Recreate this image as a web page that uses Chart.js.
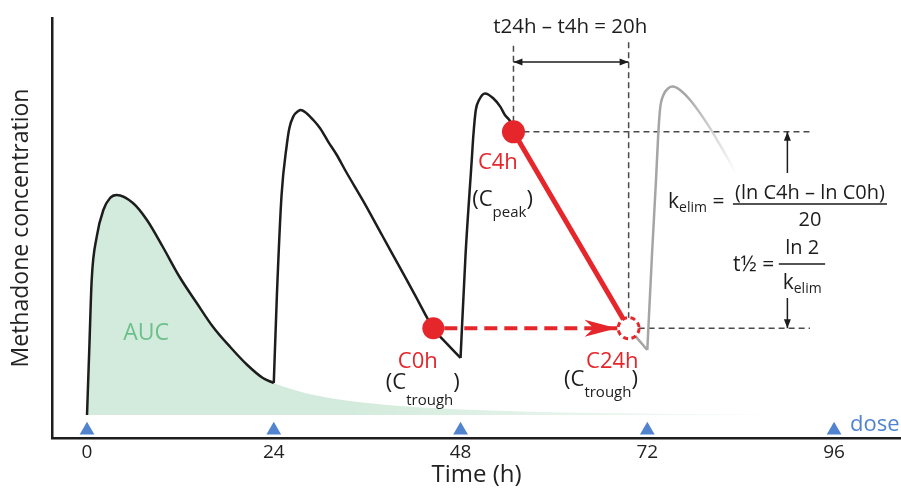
<!DOCTYPE html>
<html lang="en">
  <head>
    <meta charset="UTF-8" />
    <title>Methadone concentration</title>
    <script src="https://cdn.jsdelivr.net/npm/chart.js@4.4.1/dist/chart.umd.min.js"></script>
    <style>
      html, body { margin: 0; padding: 0; background: #fff; }
      canvas { display: block; }
    </style>
  </head>
  <body>
    <canvas id="myChart" width="901" height="491"></canvas>
    <script>
      // time in hours, concentration in arbitrary units
      const xTicks = [0, 24, 48, 72, 96];
      const doseTimes = [0, 24, 48, 72, 96];
      const doseMarkerConc = -3.8;

      const dose1Time = [0, 0.3, 0.6, 1.25, 2.1, 2.96, 3.8, 5.9, 7.7, 9.75, 11.9, 14.1, 16.2, 18.4, 20.6, 22.6, 24];
      const dose1Conc = [0, 17, 33.75, 44.6, 51.25, 54.25, 55, 53, 48.75, 42, 34.5, 28, 22, 17, 12.5, 9.25, 8];

      const dose2Time = [24, 24.4, 25.0, 25.67, 26.0, 26.5, 27.16, 27.46, 28.24, 29.08, 29.95, 31.0, 32.1, 33.16, 35.7, 37.9, 40.0, 42.2, 44.5, 46.3, 48];
      const dose2Conc = [8, 30, 55, 67.5, 71.7, 74.6, 76, 76.25, 75.4, 73.75, 71.7, 68.3, 65, 61.25, 52.8, 45, 37.6, 29.8, 21.7, 17.7, 14.25];

      const dose3Time = [48, 48.64, 49.44, 49.65, 49.96, 50.38, 51.15, 52.2, 53.1, 53.7, 54.4, 54.8];
      const dose3Conc = [14.25, 40, 63.75, 70, 76.25, 78.75, 80.4, 79.2, 77.1, 75, 73.3, 70.8];

      const leadTime = [69.6, 72];
      const leadConc = [21.7, 16.25];
      const dose4Time = [72, 72.6, 73.15, 73.4, 73.65, 74.07, 74.7, 75.27, 76.2, 77.5, 78.8, 80.06, 81.35, 82.6, 83.4];
      const dose4Conc = [16.25, 40, 60, 70, 76.7, 80, 81.7, 82.1, 81.25, 78.75, 75.4, 71.7, 67.5, 63.3, 60.5];

      // single-dose tail after 24h (area under curve)
      const tailTime = [26, 28, 32, 36, 42, 48, 56, 66, 78, 90];
      const tailConc = [6.6, 5.5, 4.0, 3.0, 2.0, 1.4, 0.9, 0.5, 0.25, 0];

      const c0h = { x: 44.5, y: 21.7 };
      const c4h = { x: 54.8, y: 70.8 };
      const c24h = { x: 69.6, y: 21.7 };
      const guideTop = 93.25;
      const guideRight = 92.9;
      const spanLevel = 88.25;
      const kArrowTime = 90;
      const kUpFrom = 60.5;
      const kDownFrom = 29.25;

      const red = "#e5262b";
      const ink = "#1d1d1d";
      const blue = "#5183cf";
      const green = "#6cc08c";
      const FONT = '"Open Sans", "DejaVu Sans", sans-serif';
      Chart.defaults.font.family = FONT;

      const pts = (ts, cs) => ts.map((t, i) => ({ x: t, y: cs[i] }));

      function aucFill(c) {
        const chart = c.chart;
        if (!chart.chartArea) return "rgb(211,235,220)";
        const x = chart.scales.x;
        const g = chart.ctx.createLinearGradient(x.getPixelForValue(34), 0, x.getPixelForValue(98), 0);
        g.addColorStop(0, "rgba(211,235,220,1)");
        g.addColorStop(1, "rgba(211,235,220,0)");
        return g;
      }
      function grayFade(c) {
        const chart = c.chart;
        if (!chart.chartArea) return "#a8a8a8";
        const x = chart.scales.x;
        const g = chart.ctx.createLinearGradient(x.getPixelForValue(77), 0, x.getPixelForValue(83.4), 0);
        g.addColorStop(0, "rgba(165,165,165,1)");
        g.addColorStop(1, "rgba(165,165,165,0)");
        return g;
      }

      function run(ctx, x, y, parts, align) {
        let w = 0;
        parts.forEach(p => { ctx.font = p[1] + "px " + FONT; w += ctx.measureText(p[0]).width; });
        let cx = align === "center" ? x - w / 2 : x;
        ctx.textAlign = "left";
        ctx.textBaseline = "middle";
        parts.forEach(p => {
          ctx.font = p[1] + "px " + FONT;
          ctx.fillStyle = p[3] || ink;
          ctx.fillText(p[0], cx, y + (p[2] || 0));
          cx += ctx.measureText(p[0]).width;
        });
      }
      function head(ctx, x1, y1, x2, y2, len, half) {
        const a = Math.atan2(y2 - y1, x2 - x1);
        ctx.beginPath();
        ctx.moveTo(x2, y2);
        ctx.lineTo(x2 - len * Math.cos(a) + half * Math.sin(a), y2 - len * Math.sin(a) - half * Math.cos(a));
        ctx.lineTo(x2 - len * Math.cos(a) - half * Math.sin(a), y2 - len * Math.sin(a) + half * Math.cos(a));
        ctx.closePath();
        ctx.fill();
      }
      function arrow(ctx, x1, y1, x2, y2, both) {
        ctx.beginPath();
        ctx.moveTo(x1, y1);
        ctx.lineTo(x2, y2);
        ctx.stroke();
        head(ctx, x1, y1, x2, y2, 9, 3.5);
        if (both) head(ctx, x2, y2, x1, y1, 9, 3.5);
      }

      const annotate = {
        id: "annotate",
        beforeDatasetDraw(chart, args) {
          const ds = chart.data.datasets[args.index];
          if (ds.pointDash) { chart.ctx.save(); chart.ctx.setLineDash(ds.pointDash); }
        },
        afterDatasetDraw(chart, args) {
          if (chart.data.datasets[args.index].pointDash) chart.ctx.restore();
        },
        afterDatasetsDraw(chart) {
          const ctx = chart.ctx;
          const X = v => chart.scales.x.getPixelForValue(v);
          const Y = v => chart.scales.y.getPixelForValue(v);
          ctx.save();

          // red arrow head touching the C24h circle
          const tx = X(c24h.x) - 12, ty = Y(c24h.y);
          ctx.fillStyle = red;
          ctx.beginPath();
          ctx.moveTo(tx, ty);
          ctx.lineTo(tx - 32, ty - 8.5);
          ctx.lineTo(tx - 23, ty);
          ctx.lineTo(tx - 32, ty + 8.5);
          ctx.closePath();
          ctx.fill();

          // black measuring arrows
          ctx.strokeStyle = ink;
          ctx.fillStyle = ink;
          ctx.lineWidth = 1.5;
          arrow(ctx, X(c4h.x), Y(spanLevel), X(c24h.x), Y(spanLevel), true);
          arrow(ctx, X(kArrowTime), Y(kUpFrom), X(kArrowTime), Y(c4h.y), false);
          arrow(ctx, X(kArrowTime), Y(kDownFrom), X(kArrowTime), Y(c24h.y), false);

          // fraction bars
          ctx.lineWidth = 1.5;
          ctx.beginPath();
          ctx.moveTo(X(83.0), Y(52.75)); ctx.lineTo(X(102.8), Y(52.75));
          ctx.moveTo(X(88.9), Y(37.75)); ctx.lineTo(X(94.85), Y(37.75));
          ctx.stroke();

          // texts
          run(ctx, X(62.1), Y(97), [["t24h \u2013 t4h = 20h", 20.5]], "center");
          run(ctx, X(7.6), Y(20.5), [["AUC", 23, 0, green]], "center");
          run(ctx, X(52.8), Y(63), [["C4h", 22, 0, red]], "center");
          run(ctx, X(49.5), Y(53.75), [["(", 22], ["C", 22], ["peak", 15, 13], [")", 22]], "left");
          run(ctx, X(42.5), Y(13.25), [["C0h", 22, 0, red]], "center");
          run(ctx, X(38.4), Y(8), [["(", 22], ["C", 22], ["trough", 15, 18], [")", 22]], "left");
          run(ctx, X(67.5), Y(13.25), [["C24h", 22, 0, red]], "center");
          run(ctx, X(61.3), Y(8.75), [["(", 22], ["C", 22], ["trough", 15, 13], [")", 22]], "left");
          run(ctx, X(98.06), Y(-2.5), [["dose", 22, 0, blue]], "left");

          run(ctx, X(74.67), Y(53.25), [["k", 21], ["elim", 14, 6], [" =", 21]], "left");
          run(ctx, X(92.9), Y(55.5), [["(ln C4h \u2013 ln C0h)", 20]], "center");
          run(ctx, X(92.9), Y(48.75), [["20", 20]], "center");
          run(ctx, X(83.02), Y(37.5), [["t\u00bd =", 21]], "left");
          run(ctx, X(91.9), Y(41.75), [["ln 2", 20]], "center");
          run(ctx, X(91.9), Y(33), [["k", 21], ["elim", 14, 6]], "center");
          ctx.restore();
        }
      };

      const curve = (data, color, order) => ({
        data, borderColor: color, borderWidth: 2.5, pointRadius: 0,
        cubicInterpolationMode: "monotone", fill: false, order
      });
      const guide = data => ({
        data, borderColor: "#4a4a4a", borderWidth: 1.5, borderDash: [6, 4],
        pointRadius: 0, fill: false, order: 7
      });

      const ctx = document.getElementById("myChart").getContext("2d");
      const myChart = new Chart(ctx, {
        type: "line",
        data: {
          datasets: [
            {
              data: doseTimes.map(t => ({ x: t, y: doseMarkerConc })),
              showLine: false, pointStyle: "triangle", pointRadius: 8.5,
              pointBackgroundColor: blue, pointBorderWidth: 0, order: 0
            },
            { data: [c0h], showLine: false, pointRadius: 11, pointBackgroundColor: red, pointBorderWidth: 0, order: 1 },
            { data: [c4h], showLine: false, pointRadius: 11.5, pointBackgroundColor: red, pointBorderWidth: 0, order: 1 },
            {
              data: [c24h], showLine: false, pointRadius: 10.5, pointBackgroundColor: "#fff",
              pointBorderColor: red, pointBorderWidth: 3, pointDash: [5, 3.5], order: 2
            },
            {
              data: [c0h, c24h], borderColor: red, borderWidth: 4, borderDash: [13, 7],
              borderDashOffset: 9, pointRadius: 0, order: 3
            },
            { data: [c4h, c24h], borderColor: red, borderWidth: 5, pointRadius: 0, order: 4 },
            curve(pts(dose1Time, dose1Conc), ink, 5),
            curve(pts(dose2Time, dose2Conc), ink, 5),
            curve(pts(dose3Time, dose3Conc), ink, 5),
            curve(pts(leadTime, leadConc), "#a5a5a5", 6),
            curve(pts(dose4Time, dose4Conc), grayFade, 6),
            guide([c4h, { x: c4h.x, y: guideTop }]),
            guide([c24h, { x: c24h.x, y: guideTop }]),
            guide([c4h, { x: guideRight, y: c4h.y }]),
            guide([c24h, { x: guideRight, y: c24h.y }]),
            {
              data: pts(dose1Time, dose1Conc).concat(pts(tailTime, tailConc)),
              borderWidth: 0, pointRadius: 0, cubicInterpolationMode: "monotone",
              fill: "origin", backgroundColor: aucFill, order: 8
            }
          ]
        },
        options: {
          responsive: false,
          animation: false,
          layout: { autoPadding: false, padding: { top: 18, right: 0, left: 0, bottom: 0 } },
          plugins: { legend: { display: false }, tooltip: { enabled: false } },
          scales: {
            x: {
              type: "linear", min: -4.5, max: 104.6,
              afterBuildTicks: s => { s.ticks = xTicks.map(v => ({ value: v })); },
              afterFit: s => { s.height = 53; s.paddingLeft = 0; s.paddingRight = 0; },
              grid: { display: false, drawTicks: false },
              border: { display: true, color: ink, width: 2.5 },
              ticks: { color: "#222", font: { size: 19 }, padding: 3, maxRotation: 0, autoSkip: false },
              title: { display: true, text: "Time (h)", color: "#222", font: { size: 24 }, padding: { top: 0, bottom: 1 } }
            },
            y: {
              type: "linear", min: -5.75, max: 99.25,
              afterFit: s => { s.width = 52; s.paddingTop = 0; s.paddingBottom = 0; },
              grid: { display: false, drawTicks: false },
              border: { display: true, color: ink, width: 2.5 },
              ticks: { display: false },
              title: { display: true, text: "Methadone concentration", color: "#222", font: { size: 23 }, padding: { top: 8, bottom: 0 } }
            }
          }
        },
        plugins: [annotate]
      });
    </script>
  </body>
</html>
